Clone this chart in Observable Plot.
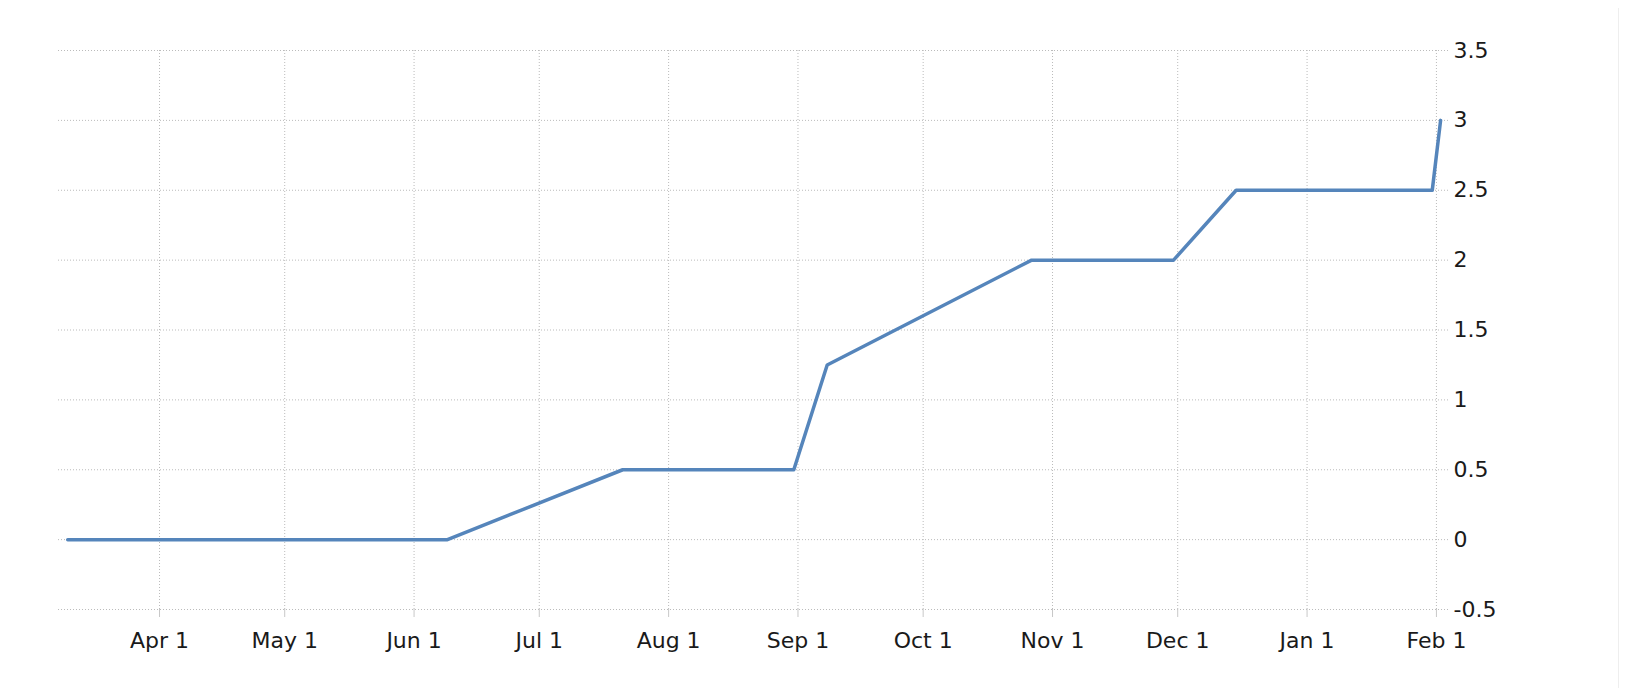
<!DOCTYPE html>
<html>
<head>
<meta charset="utf-8">
<script src="https://cdn.jsdelivr.net/npm/d3@7"></script>
<script src="https://cdn.jsdelivr.net/npm/@observablehq/plot@0.6"></script>
<style>
  html, body { margin: 0; padding: 0; background: #fff; }
  #wrap { position: relative; width: 1642px; height: 688px; overflow: hidden; }
  #edge { position: absolute; left: 1618px; top: 8px; width: 0; height: 680px; border-left: 1px solid #eeeeee; }
</style>
</head>
<body>
<div id="wrap"><div id="edge"></div></div>
<script>
// Data
const dates = ["2022-03-10", "2022-04-14", "2022-06-09", "2022-07-21", "2022-08-31", "2022-09-08",
               "2022-10-27", "2022-11-30", "2022-12-15", "2023-01-31", "2023-02-02"];
const rates = [0, 0, 0, 0.5, 0.5, 1.25, 2, 2, 2.5, 2.5, 3];
const xTicks = ["2022-04-01", "2022-05-01", "2022-06-01", "2022-07-01", "2022-08-01", "2022-09-01",
                "2022-10-01", "2022-11-01", "2022-12-01", "2023-01-01", "2023-02-01"];
const yTicks = [-0.5, 0, 0.5, 1, 1.5, 2, 2.5, 3, 3.5];

const data = dates.map((d, i) => ({date: new Date(d + "T00:00Z"), value: rates[i]}));
const xTickDates = xTicks.map(d => new Date(d + "T00:00Z"));

const chart = Plot.plot({
  width: 1642,
  height: 688,
  marginLeft: 58,
  marginRight: 194,
  marginTop: 50,
  marginBottom: 79,
  style: {fontFamily: "'DejaVu Sans', sans-serif", fontSize: "22px", background: "#fff", color: "#1a1a1a"},
  x: {type: "utc", domain: [new Date("2022-03-07T19:00Z"), new Date("2023-02-03T21:24Z")]},
  y: {domain: [-0.5, 3.5]},
  marks: [
    Plot.gridX(xTickDates, {stroke: "#bbb", strokeOpacity: 1, strokeDasharray: "1,2"}),
    Plot.gridY(yTicks, {stroke: "#bbb", strokeOpacity: 1, strokeDasharray: "1,2"}),
    Plot.axisX(xTickDates, {tickSize: 8, tickPadding: 15, stroke: "#c8c8c8", fill: "#1a1a1a",
      tickFormat: d3.utcFormat("%b %-d"), label: null}),
    Plot.axisY(yTicks, {anchor: "right", tickSize: 0, tickPadding: 5, fill: "#1a1a1a",
      tickFormat: d => String(d), label: null}),
    Plot.line(data, {x: "date", y: "value", stroke: "#5585bb", strokeWidth: 3.5, curve: "linear"})
  ]
});
document.getElementById("wrap").appendChild(chart);
</script>
</body>
</html>
